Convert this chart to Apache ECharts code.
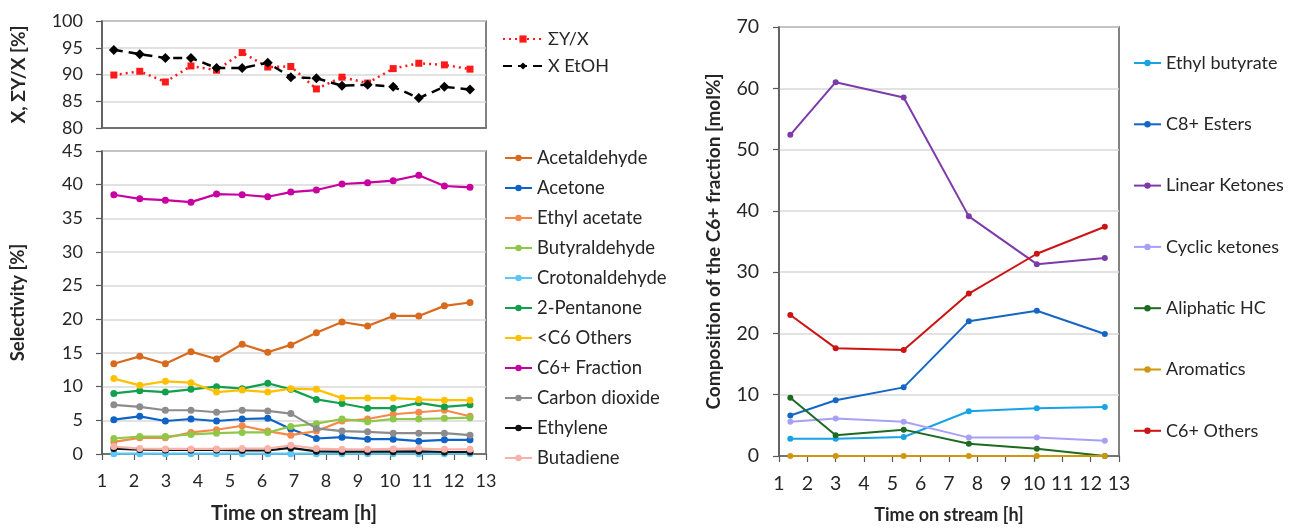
<!DOCTYPE html>
<html>
<head>
<meta charset="utf-8">
<script src="https://cdn.jsdelivr.net/npm/echarts@6/dist/echarts.min.js"></script>
<style>
  html, body { margin: 0; padding: 0; background: #ffffff; }
  #chart { width: 1289px; height: 529px; }
</style>
</head>
<body>
<div id="chart"></div>
<script>
// Sampling times [h]
const timeOnStream = [1.37, 2.18, 2.98, 3.78, 4.58, 5.38, 6.18, 6.9, 7.7, 8.5, 9.3, 10.1, 10.9, 11.7, 12.5];
const timeC6 = [1.4, 3.0, 5.4, 7.7, 10.1, 12.5];

// Conversion and carbon balance [%]
const sumYOverX = [89.9, 90.6, 88.6, 91.6, 90.8, 94.1, 91.4, 91.5, 87.3, 89.5, 88.4, 91.1, 92.1, 91.8, 91.0];
const ethanolConversion = [94.6, 93.8, 93.1, 93.1, 91.2, 91.2, 92.2, 89.5, 89.3, 87.9, 88.1, 87.7, 85.6, 87.7, 87.2];

// Selectivities [%]
const acetaldehyde   = [13.4, 14.5, 13.4, 15.2, 14.1, 16.3, 15.1, 16.2, 18.0, 19.6, 19.0, 20.5, 20.5, 22.0, 22.5];
const acetone        = [5.1, 5.6, 4.9, 5.2, 4.9, 5.2, 5.3, 3.7, 2.3, 2.5, 2.2, 2.2, 1.9, 2.1, 2.1];
const ethylAcetate   = [1.8, 2.4, 2.4, 3.2, 3.6, 4.2, 3.4, 2.8, 3.4, 4.9, 5.2, 5.9, 6.2, 6.5, 5.6];
const butyraldehyde  = [2.3, 2.6, 2.6, 2.9, 3.1, 3.2, 3.2, 4.1, 4.5, 5.2, 4.8, 5.2, 5.2, 5.3, 5.4];
const crotonaldehyde = [0.05, 0.05, 0.05, 0.05, 0.05, 0.05, 0.05, 0.05, 0.05, 0.05, 0.05, 0.05, 0.05, 0.05, 0.05];
const pentanone      = [9.0, 9.4, 9.2, 9.6, 10.0, 9.7, 10.5, 9.6, 8.1, 7.5, 6.8, 6.8, 7.6, 7.0, 7.3];
const othersBelowC6  = [11.2, 10.2, 10.8, 10.6, 9.2, 9.5, 9.2, 9.7, 9.6, 8.3, 8.3, 8.3, 8.1, 8.0, 8.0];
const c6Fraction     = [38.5, 37.9, 37.7, 37.4, 38.6, 38.5, 38.2, 38.9, 39.2, 40.1, 40.3, 40.6, 41.4, 39.8, 39.6];
const carbonDioxide  = [7.3, 7.0, 6.5, 6.5, 6.2, 6.5, 6.4, 6.0, 3.8, 3.4, 3.3, 3.1, 3.1, 3.1, 2.8];
const ethylene       = [0.8, 0.65, 0.6, 0.6, 0.6, 0.55, 0.55, 0.9, 0.4, 0.35, 0.35, 0.35, 0.4, 0.3, 0.3];
const butadiene      = [1.1, 0.8, 0.75, 0.75, 0.75, 0.8, 0.8, 1.3, 0.8, 0.7, 0.7, 0.75, 0.8, 0.7, 0.7];

// Composition of the C6+ fraction [mol%]
const ethylButyrate = [2.8, 2.8, 3.1, 7.3, 7.8, 8.0];
const c8Esters      = [6.6, 9.1, 11.2, 22.0, 23.7, 19.9];
const linearKetones = [52.4, 61.0, 58.5, 39.1, 31.3, 32.3];
const cyclicKetones = [5.6, 6.1, 5.6, 3.0, 3.0, 2.5];
const aliphaticHC   = [9.5, 3.4, 4.3, 2.0, 1.2, 0.0];
const aromatics     = [0, 0, 0, 0, 0, 0];
const c6Others      = [23.0, 17.6, 17.3, 26.5, 33.0, 37.4];

const xTicks = ['1', '2', '3', '4', '5', '6', '7', '8', '9', '10', '11', '12', '13'];

const FONT = 'Lato, "Liberation Sans", sans-serif';
const INK = '#262626';
const FRAME = '#595959';
const GRIDLINE = '#d9d9d9';

const pairs = (xs, ys) => xs.map((x, i) => [x, ys[i]]);

const selectivity = [
  ['Acetaldehyde', acetaldehyde, '#D86A1E'],
  ['Acetone', acetone, '#0D63C6'],
  ['Ethyl acetate', ethylAcetate, '#F6884A'],
  ['Butyraldehyde', butyraldehyde, '#8FC749'],
  ['Crotonaldehyde', crotonaldehyde, '#5CC6F4'],
  ['2-Pentanone', pentanone, '#12A04E'],
  ['<C6 Others', othersBelowC6, '#FFC000'],
  ['C6+ Fraction', c6Fraction, '#C800A0'],
  ['Carbon dioxide', carbonDioxide, '#8C8C8C'],
  ['Ethylene', ethylene, '#111111'],
  ['Butadiene', butadiene, '#F8B2A9']
];

const composition = [
  ['Ethyl butyrate', ethylButyrate, '#17A3E6'],
  ['C8+ Esters', c8Esters, '#1466C6'],
  ['Linear Ketones', linearKetones, '#7D3AAA'],
  ['Cyclic ketones', cyclicKetones, '#A7A0F6'],
  ['Aliphatic HC', aliphaticHC, '#1F6A22'],
  ['Aromatics', aromatics, '#D0960E'],
  ['C6+ Others', c6Others, '#CC1414']
];

function xAxisFor(gridIndex, showLabels, labelSize, nameSize) {
  return {
    type: 'value', gridIndex, min: 1, max: 13, interval: 1,
    axisLine: { show: true, onZero: false, lineStyle: { color: FRAME, width: 1.5 } },
    axisTick: { show: showLabels, length: 6, lineStyle: { color: FRAME, width: 1.2 } },
    axisLabel: {
      show: showLabels, margin: 18, color: INK, fontFamily: FONT, fontSize: labelSize,
      formatter: v => xTicks[Math.round(v) - 1]
    },
    splitLine: { show: false },
    name: showLabels ? 'Time on stream [h]' : '',
    nameLocation: 'middle', nameGap: 50,
    nameTextStyle: { color: INK, fontFamily: FONT, fontWeight: 'bold', fontSize: nameSize }
  };
}

function yAxisFor(gridIndex, min, max, interval, name, nameGap, labelSize, margin, nameSize) {
  return {
    type: 'value', gridIndex, min, max, interval,
    axisLine: { show: true, lineStyle: { color: FRAME, width: 1.5 } },
    axisTick: { show: true, length: 6, lineStyle: { color: FRAME, width: 1.2 } },
    axisLabel: { margin, color: INK, fontFamily: FONT, fontSize: labelSize },
    splitLine: { show: true, lineStyle: { color: GRIDLINE, width: 1.5 } },
    name, nameLocation: 'middle', nameRotate: 90, nameGap,
    nameTextStyle: { color: INK, fontFamily: FONT, fontWeight: 'bold', fontSize: nameSize }
  };
}

const series = [];

series.push({
  name: 'ΣY/X', type: 'line', xAxisIndex: 0, yAxisIndex: 0,
  data: pairs(timeOnStream, sumYOverX),
  symbol: 'rect', symbolSize: 7,
  lineStyle: { color: '#FF1A1A', width: 2.5, type: [2, 4] },
  itemStyle: { color: '#FF1A1A' }
});
series.push({
  name: 'X EtOH', type: 'line', xAxisIndex: 0, yAxisIndex: 0,
  data: pairs(timeOnStream, ethanolConversion),
  symbol: 'diamond', symbolSize: 10,
  lineStyle: { color: '#000000', width: 2.5, type: [9, 6] },
  itemStyle: { color: '#000000' }
});

selectivity.forEach(([name, values, color]) => {
  series.push({
    name, type: 'line', xAxisIndex: 1, yAxisIndex: 1,
    data: pairs(timeOnStream, values),
    symbol: 'circle', symbolSize: 7,
    lineStyle: { color, width: 2.2 },
    itemStyle: { color }
  });
});

composition.forEach(([name, values, color]) => {
  series.push({
    name, type: 'line', xAxisIndex: 2, yAxisIndex: 2,
    data: pairs(timeC6, values),
    symbol: 'circle', symbolSize: 6,
    lineStyle: { color, width: 2 },
    itemStyle: { color }
  });
});

const legendText = size => ({ color: INK, fontFamily: FONT, fontSize: size, lineHeight: 20 });

const option = {
  animation: false,
  backgroundColor: '#ffffff',
  grid: [
    { left: 102, top: 21, width: 384, height: 107, show: true, borderColor: FRAME, borderWidth: 1.5 },
    { left: 102, top: 151, width: 384, height: 310, show: true, borderColor: FRAME, borderWidth: 1.5 },
    { left: 779, top: 27, width: 340, height: 434, show: true, borderColor: FRAME, borderWidth: 1.5 }
  ],
  xAxis: [xAxisFor(0, false, 18, 20), xAxisFor(1, true, 18, 20), xAxisFor(2, true, 19.5, 18)],
  yAxis: [
    yAxisFor(0, 80, 100, 5, 'X, ΣY/X [%]', 74, 18, 19, 19),
    yAxisFor(1, 0, 45, 5, 'Selectivity [%]', 74, 18, 19, 18.5),
    yAxisFor(2, 0, 70, 10, 'Composition of the C6+ fraction [mol%]', 56, 19.5, 20, 19)
  ],
  legend: [
    {
      data: ['ΣY/X', 'X EtOH'], orient: 'vertical', left: 497, top: 24,
      itemWidth: 40, itemHeight: 9, itemGap: 7, textStyle: legendText(18)
    },
    {
      data: selectivity.map(s => s[0]), orient: 'vertical', left: 499, top: 143,
      itemWidth: 27, itemHeight: 8, itemGap: 10, textStyle: legendText(18.5)
    },
    {
      data: composition.map(s => s[0]), orient: 'vertical', left: 1128, top: 48,
      itemWidth: 27, itemHeight: 8, itemGap: 41.3, textStyle: legendText(18)
    }
  ],
  series
};

const chart = echarts.init(document.getElementById('chart'), null, { renderer: 'canvas' });
chart.setOption(option);
</script>
</body>
</html>
